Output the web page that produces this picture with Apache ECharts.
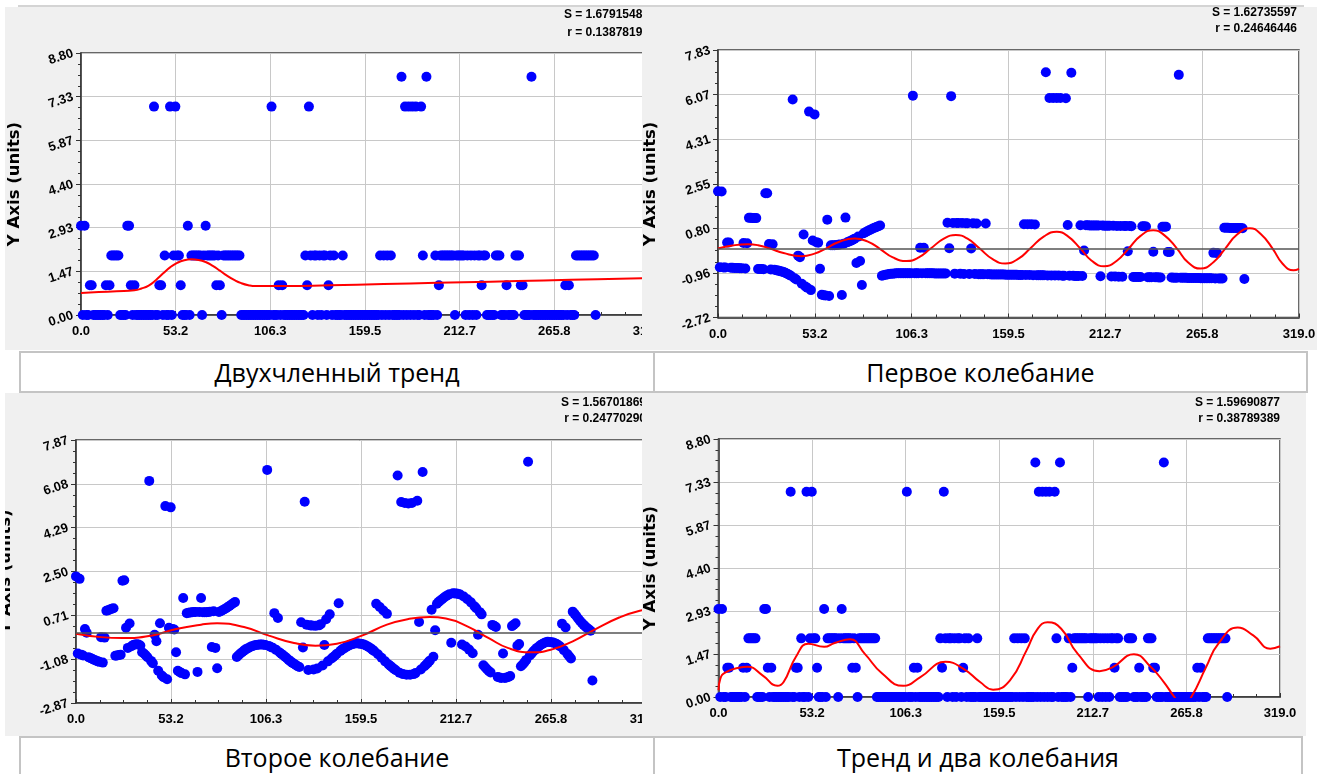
<!DOCTYPE html>
<html><head><meta charset="utf-8">
<script src="https://cdn.jsdelivr.net/npm/echarts@6/dist/echarts.min.js"></script>
<style>
html,body{margin:0;padding:0;background:#fff;width:1325px;height:774px;overflow:hidden;position:relative}
.panel{position:absolute;background:#f0f0f0;overflow:hidden}
.cap{position:absolute;box-sizing:border-box;border:2px solid #c4c4c4;background:#fff;display:flex;align-items:center;justify-content:center;font-family:'Open Sans',sans-serif;font-size:25px;color:#000}
</style></head><body>
<div style="position:absolute;left:18px;top:5px;width:1286px;height:2px;background:#d4d4d4"></div>
<div class="panel" id="p1" style="left:5px;top:7px;width:637px;height:343px"></div>
<div class="panel" id="p2" style="left:642px;top:7px;width:675px;height:343px"></div>
<div class="panel" id="p3" style="left:5px;top:393px;width:637px;height:343px"></div>
<div class="panel" id="p4" style="left:642px;top:393px;width:664px;height:343px"></div>
<div class="cap" id="c1" style="left:19px;top:351px;width:636px;height:42px"></div>
<div class="cap" id="c2" style="left:653px;top:351px;width:655px;height:42px"></div>
<div class="cap" id="c3" style="left:19px;top:736px;width:636px;height:42px"></div>
<div class="cap" id="c4" style="left:653px;top:736px;width:650px;height:42px"></div>
<script>
// ---------- DATA ----------
const captions = ['Двухчленный тренд','Первое колебание','Второе колебание','Тренд и два колебания'];
const statLines = [
  ['S = 1.67915482','r = 0.13878192'],
  ['S = 1.62735597','r = 0.24646446'],
  ['S = 1.56701869','r = 0.24770290'],
  ['S = 1.59690877','r = 0.38789389']
];
const xTickLabels = ['0.0','53.2','106.3','159.5','212.7','265.8','319.0'];
const yTicks1 = ['0.00','1.47','2.93','4.40','5.87','7.33','8.80'];
const yTicks2 = ['-2.72','-0.96','0.80','2.55','4.31','6.07','7.83'];
const yTicks3 = ['-2.87','-1.08','0.71','2.50','4.29','6.08','7.87'];
const yTicks4 = ['0.00','1.47','2.93','4.40','5.87','7.33','8.80'];

const xs = [
0,1,2,3,4,5,6,7,8,9,10,11,12,13,14,15,16,17,18,19,
20,21,22,23,24,25,26,27,28,29,30,31,32,33,34,35,36,37,38,39,
40,41,42,43,44,45,46,47,48,49,50,51,52,53,54,55,56,57,58,59,
60,61,62,63,64,65,66,67,68,69,70,71,72,73,74,75,76,77,78,79,
80,81,82,83,84,85,86,87,88,89,90,91,92,93,94,95,96,97,98,99,
100,101,102,103,104,105,106,107,108,109,110,111,112,113,114,115,116,117,118,119,
120,121,122,123,124,125,126,127,128,129,130,131,132,133,134,135,136,137,138,139,
140,141,142,143,144,145,146,147,148,149,150,151,152,153,154,155,156,157,158,159,
160,161,162,163,164,165,166,167,168,169,170,171,172,173,174,175,176,177,178,179,
180,181,182,183,184,185,186,187,188,189,190,191,192,193,194,195,196,197,198,199,
200,201,202,203,204,205,206,207,208,209,210,211,212,213,214,215,216,217,218,219,
220,221,222,223,224,225,226,227,228,229,230,231,232,233,234,235,236,237,238,239,
240,241,242,243,244,245,246,247,248,249,250,251,252,253,254,255,256,257,258,259,
260,261,262,263,264,265,266,267,268,269,270,271,272,273,274,275,276,277,278,279,
280,281,282,283,284,285,286,287,288,289];

// observed values (panels 1 and 4)
const observed = [
3,0,3,0,0,1,1,0,0,0, 0,0,0,0,1,0,1,2,2,2, 2,2,0,0,0,0,3,3,1,0, 1,0,0,0,0,0,0,0,0,0,
0,7,0,0,1,1,0,2,0,0, 7,0,2,7,2,2,1,0,0,0, 3,0,2,2,2,2,2,2,0,2, 3,2,2,2,2,2,1,2,1,0,
2,2,2,2,2,2,2,2,2,2, 0,0,0,0,0,0,0,0,0,0, 0,0,0,0,0,0,0,7,0,0, 0,1,0,1,0,0,0,0,0,0,
0,0,0,0,0,0,2,1,7,2, 0,2,2,0,2,0,2,2,0,1, 2,0,2,0,0,0,0,2,0,0, 0,0,0,0,0,0,0,0,0,0,
0,0,0,0,0,0,0,0,2,0, 2,0,2,0,2,0,0,0,0,0, 8,0,7,0,7,0,7,0,7,0, 0,7,2,0,8,0,0,0,0,2,
0,1,2,2,2,2,2,2,2,2, 0,2,2,2,2,2,0,2,0,2, 0,2,0,2,2,1,2,2,0,0, 0,0,0,2,2,2,0,0,0,1,
0,0,0,0,2,2,2,1,1,0, 0,0,0,8,0,0,0,0,0,0, 0,0,0,0,0,0,0,0,0,0, 0,0,1,0,1,0,0,0,2,2,
2,2,2,2,2,2,2,2,2,0];

// residuals after trend (panel 2)
const residual1 = [
2.26,-0.74,2.25,-0.75,-0.75,0.24,0.24,-0.76,-0.76,-0.77,
-0.77,-0.77,-0.78,-0.78,0.22,-0.79,0.21,1.21,1.21,1.20,
1.20,1.20,-0.81,-0.81,-0.81,-0.82,2.18,2.18,0.18,-0.83,
0.17,-0.84,-0.86,-0.87,-0.89,-0.91,-0.93,-0.96,-0.99,-1.03,
-1.07,5.88,-1.17,-1.22,-0.28,-0.34,-1.39,0.55,-1.50,-1.55,
5.40,-1.64,0.32,5.29,0.25,0.23,-0.80,-1.82,-1.84,-1.85,
1.14,-1.87,0.13,0.13,0.13,0.14,0.15,0.16,-1.83,0.19,
1.22,0.25,0.28,0.31,0.35,0.39,-0.57,0.47,-0.49,-1.44,
0.60,0.64,0.68,0.72,0.75,0.79,0.82,0.85,0.88,0.91,
-1.07,-1.05,-1.03,-1.02,-1.00,-0.99,-0.99,-0.98,-0.97,-0.97,
-0.97,-0.97,-0.97,-0.97,-0.97,-0.97,-0.97,6.03,-0.97,-0.97,
-0.97,0.03,-0.97,0.03,-0.97,-0.97,-0.97,-0.97,-0.97,-0.98,
-0.98,-0.98,-0.98,-0.98,-0.98,-0.98,1.02,0.01,6.01,1.01,
-0.99,1.01,1.01,-0.99,1.01,-1.00,1.00,1.00,-1.00,0.00,
1.00,-1.00,0.99,-1.01,-1.01,-1.01,-1.01,0.99,-1.01,-1.01,
-1.02,-1.02,-1.02,-1.02,-1.02,-1.02,-1.02,-1.02,-1.03,-1.03,
-1.03,-1.03,-1.03,-1.03,-1.03,-1.04,-1.04,-1.04,0.96,-1.04,
0.96,-1.04,0.96,-1.05,0.95,-1.05,-1.05,-1.05,-1.05,-1.05,
6.95,-1.06,5.94,-1.06,5.94,-1.06,5.94,-1.06,5.94,-1.07,
-1.07,5.93,0.93,-1.07,6.93,-1.07,-1.08,-1.08,-1.08,0.92,
-1.08,-0.08,0.92,0.92,0.91,0.91,0.91,0.91,0.91,0.91,
-1.09,0.91,0.90,0.90,0.90,0.90,-1.10,0.90,-1.10,0.89,
-1.11,0.89,-1.11,0.89,0.89,-0.11,0.89,0.88,-1.12,-1.12,
-1.12,-1.12,-1.12,0.88,0.88,0.87,-1.13,-1.13,-1.13,-0.13,
-1.13,-1.13,-1.14,-1.14,0.86,0.86,0.86,-0.14,-0.14,-1.14,
-1.15,-1.15,-1.15,6.85,-1.15,-1.15,-1.15,-1.15,-1.16,-1.16,
-1.16,-1.16,-1.16,-1.16,-1.16,-1.17,-1.17,-1.17,-1.17,-1.17,
-1.17,-1.17,-0.17,-1.18,-0.18,-1.18,-1.18,-1.18,0.82,0.82,
0.82,0.81,0.81,0.81,0.81,0.81,0.81,0.81,0.80,-1.20];

// residuals after trend and first oscillation (panel 3)
const residual2 = [
2.30,-0.85,2.20,-0.90,-0.93,0.15,0.00,-1.00,-1.03,-1.06,
-1.10,-1.13,-1.16,-1.19,-0.18,-1.22,-0.20,0.90,0.92,0.95,
0.98,1.00,-0.94,-0.93,-0.91,-0.90,2.12,2.14,0.20,-0.62,
0.38,-0.55,-0.50,-0.48,-0.47,-0.48,-0.52,-0.80,-0.85,-0.92,
-1.00,6.20,-1.15,-1.25,-0.08,-0.35,-1.55,0.39,-1.75,-1.82,
5.17,-1.90,0.20,5.12,0.15,0.13,-0.80,-1.55,-1.60,-1.65,
1.42,-1.70,0.80,0.82,0.83,0.84,0.85,0.85,-1.60,0.85,
1.42,0.84,0.84,0.84,0.85,0.86,-0.58,0.88,-0.62,-1.45,
0.85,0.88,0.92,0.96,1.00,1.05,1.10,1.15,1.20,1.25,
-0.99,-0.92,-0.85,-0.80,-0.73,-0.68,-0.64,-0.60,-0.56,-0.54,
-0.51,-0.50,-0.49,-0.48,-0.48,-0.49,-0.50,6.65,-0.54,-0.58,
-0.61,0.80,-0.70,0.60,-0.81,-0.87,-0.92,-0.98,-1.04,-1.11,
-1.17,-1.22,-1.27,-1.32,-1.37,-1.40,0.43,-0.60,5.35,0.33,
-1.52,0.30,0.29,-1.50,0.28,-1.46,0.30,0.35,-1.34,-0.50,
0.55,-1.17,0.75,-1.05,-0.99,-0.93,-0.86,1.20,-0.74,-0.68,
-0.64,-0.59,-0.55,-0.51,-0.48,-0.46,-0.44,-0.43,-0.44,-0.45,
-0.46,-0.48,-0.51,-0.55,-0.59,-0.64,-0.70,-0.76,1.18,-0.88,
1.05,-1.02,0.91,-1.17,0.77,-1.30,-1.36,-1.42,-1.48,-1.53,
6.42,-1.63,5.34,-1.69,5.30,-1.72,5.28,-1.72,5.30,-1.69,
-1.65,5.39,0.44,-1.50,6.56,-1.37,-1.30,-1.22,-1.14,0.94,
-0.98,0.10,1.18,1.26,1.32,1.38,1.44,1.49,1.53,1.57,
-0.41,1.61,1.60,1.60,1.58,1.56,-0.48,1.48,-0.56,1.37,
-0.69,1.24,-0.84,1.08,1.00,-0.08,0.84,0.75,-1.33,-1.41,
-1.49,-1.56,-1.62,0.32,0.28,0.23,-1.81,-1.83,-1.85,-0.85,
-1.85,-1.83,-1.81,-1.77,0.27,0.33,0.39,-0.53,-0.46,-1.37,
-1.30,-1.21,-1.11,6.98,-0.93,-0.85,-0.76,-0.69,-0.62,-0.56,
-0.50,-0.46,-0.42,-0.39,-0.37,-0.38,-0.39,-0.40,-0.43,-0.46,
-0.51,-0.56,0.37,-0.71,0.21,-0.87,-0.96,-1.05,0.86,0.77,
0.68,0.58,0.49,0.41,0.33,0.26,0.19,0.14,0.08,-1.95];

// fitted curves
const trendX = [0,10,20,30,34,38,42,46,50,54,58,62,66,70,74,78,82,86,90,94,98,115,140,170,200,230,260,290,319];
const trendY = [0.74,0.77,0.80,0.83,0.89,0.99,1.17,1.39,1.60,1.75,1.84,1.87,1.85,1.78,1.65,1.49,1.32,1.18,1.07,1.00,0.97,0.97,1.00,1.04,1.08,1.12,1.16,1.20,1.24];
const osc1X = [0,8,16.5,22,28.6,36,46,53,59,66,75,82,88.7,96,103.6,110,116.8,124,130.6,137,143.7,151,157.7,165,171.4,179,186,192,199,205,212,219,225.5,232,239,245,252,258,265,272,278.5,285,292,298,304.5,310,316,319];
const osc1Y = [0,0.12,0.17,0.13,0,-0.18,-0.30,-0.20,-0.01,0.25,0.40,0.28,0,-0.35,-0.49,-0.36,0,0.39,0.53,0.39,0,-0.43,-0.59,-0.40,0,0.48,0.66,0.49,0,-0.47,-0.70,-0.48,0,0.50,0.72,0.53,0,-0.54,-0.79,-0.54,0,0.55,0.80,0.57,0,-0.60,-0.86,-0.80];
const osc2X = [0,14,26,42,56,70,79,94,108,122,134,146,160,174,186,198,207,219,231,242,255,266,278,290,304,315.5,319];
const osc2Y = [-0.04,-0.18,-0.22,-0.12,0.15,0.33,0.39,0.23,-0.12,-0.42,-0.53,-0.45,-0.12,0.33,0.56,0.64,0.58,0.26,-0.22,-0.63,-0.80,-0.69,-0.35,0.12,0.62,0.90,0.93];
const fitX = [0,1,4,11.6,16.5,25,33.5,37,44,51,60,66,74.7,83,93,105,114.7,129,139,148.6,156,165.6,175,181,187,194.7,204,216.5,224,236,245.6,253,259,263.5,268.6,277,284,295,303.8,313.5,319];
const fitY = [0.23,0.62,0.84,1.0,1.03,0.74,0.38,0.51,1.37,1.82,1.71,1.84,1.97,1.48,0.80,0.38,0.68,1.20,0.97,0.51,0.25,0.57,1.59,2.30,2.55,2.33,1.48,0.88,1.02,1.46,1.02,0.51,0.0,-0.3,0.0,1.02,1.82,2.37,2.10,1.65,1.73];

// ---------- BUILD ----------
function pairs(a, b) { return a.map((v, i) => [v, b[i]]); }
const labelFont = {fontFamily:'Liberation Sans', fontWeight:'bold', fontSize:13, color:'#000'};
const darkLine = {color:'#333', width:1.5};

function makePanel(id, cfg) {
  const chart = echarts.init(document.getElementById(id), null, {renderer:'canvas'});
  const series = [
    {type:'line', xAxisIndex:1, yAxisIndex:1, data:[], z:1, silent:true,
     markLine: cfg.zeroLine ? {silent:true, symbol:'none', label:{show:false},
       lineStyle:{color:'#555', width:1.5, type:'solid'}, data:[{yAxis:0}], animation:false} : undefined},
    {type:'scatter', xAxisIndex:1, yAxisIndex:1, data:pairs(xs, cfg.points), symbolSize:10,
     itemStyle:{color:'#0000ff', opacity:1}, z:2, silent:true},
    {type:'line', xAxisIndex:1, yAxisIndex:1, data:pairs(cfg.curveX, cfg.curveY), smooth:0.5,
     showSymbol:false, lineStyle:{color:'#ff0000', width:2}, z:3, silent:true}
  ];
  chart.setOption({
    animation:false,
    backgroundColor:'#f0f0f0',
    grid:{left:cfg.grid[0], top:cfg.grid[1], width:cfg.grid[2], height:cfg.grid[3],
          show:true, backgroundColor:'#fff', borderColor:'#3a3a3a', borderWidth:1.5,
          containLabel:false, outerBoundsMode:'none'},
    xAxis:[
      {type:'value', min:0, max:6, interval:1, position:'bottom',
       axisLine:{show:true, onZero:false, lineStyle:darkLine},
       axisTick:{show:true, inside:true, length:4, lineStyle:{color:'#333'}},
       minorTick:{show:true, splitNumber:4, length:3, lineStyle:{color:'#333'}},
       splitLine:{show:true, lineStyle:{color:'#c8c8c8', width:1}},
       axisLabel:Object.assign({formatter:v => xTickLabels[Math.round(v)], margin:10,
                   showMinLabel:true, showMaxLabel:true, hideOverlap:false}, labelFont)},
      {type:'value', min:0, max:319, show:false}
    ],
    yAxis:[
      {type:'value', min:0, max:6, interval:1, position:'left',
       name:'Y Axis (units)', nameLocation:'middle', nameGap:cfg.nameGap,
       nameTextStyle:{fontFamily:'DejaVu Sans', fontWeight:'bold', fontSize:16.5, color:'#000'},
       axisLine:{show:true, onZero:false, lineStyle:darkLine},
       axisTick:{show:true, inside:false, length:5, lineStyle:{color:'#333'}},
       minorTick:{show:true, splitNumber:4, length:3, lineStyle:{color:'#333'}},
       splitLine:{show:true, lineStyle:{color:'#c8c8c8', width:1}},
       axisLabel:Object.assign({formatter:v => cfg.yLabels[Math.round(v)], rotate:18, margin:8,
                   padding:[6,0,0,0],
                   showMinLabel:true, showMaxLabel:true, hideOverlap:false}, labelFont)},
      {type:'value', min:cfg.yMin, max:cfg.yMax, show:false}
    ],
    graphic:[
      {type:'text', x:cfg.stat[0], y:cfg.stat[1], silent:true,
       style:{text:cfg.statText[0], font:'bold 12px "Liberation Sans"', fill:'#000',
              align:'right', verticalAlign:'middle', textAlign:'right', textVerticalAlign:'middle'}},
      {type:'text', x:cfg.stat[0], y:cfg.stat[2], silent:true,
       style:{text:cfg.statText[1], font:'bold 12px "Liberation Sans"', fill:'#000',
              align:'right', verticalAlign:'middle', textAlign:'right', textVerticalAlign:'middle'}}
    ],
    series:series
  });
}

makePanel('p1', {grid:[76,46,568,262], yLabels:yTicks1, yMin:0, yMax:8.8, points:observed,
  curveX:trendX, curveY:trendY, zeroLine:false, nameGap:58, stat:[644,8,25.5], statText:statLines[0]});
makePanel('p2', {grid:[76,43,581,267.5], yLabels:yTicks2, yMin:-2.72, yMax:7.83, points:residual1,
  curveX:osc1X, curveY:osc1Y, zeroLine:true, nameGap:59, stat:[655,6,22], statText:statLines[1]});
makePanel('p3', {grid:[71,47,570,263], yLabels:yTicks3, yMin:-2.87, yMax:7.87, points:residual2,
  curveX:osc2X, curveY:osc2Y, zeroLine:true, nameGap:62, stat:[641,9.5,25.5], statText:statLines[2]});
makePanel('p4', {grid:[76.5,46,561.5,258], yLabels:yTicks4, yMin:0, yMax:8.8, points:observed,
  curveX:fitX, curveY:fitY, zeroLine:false, nameGap:59, stat:[638,9.5,25.5], statText:statLines[3]});

['c1','c2','c3','c4'].forEach((id, i) => { document.getElementById(id).textContent = captions[i]; });
</script>
</body></html>
